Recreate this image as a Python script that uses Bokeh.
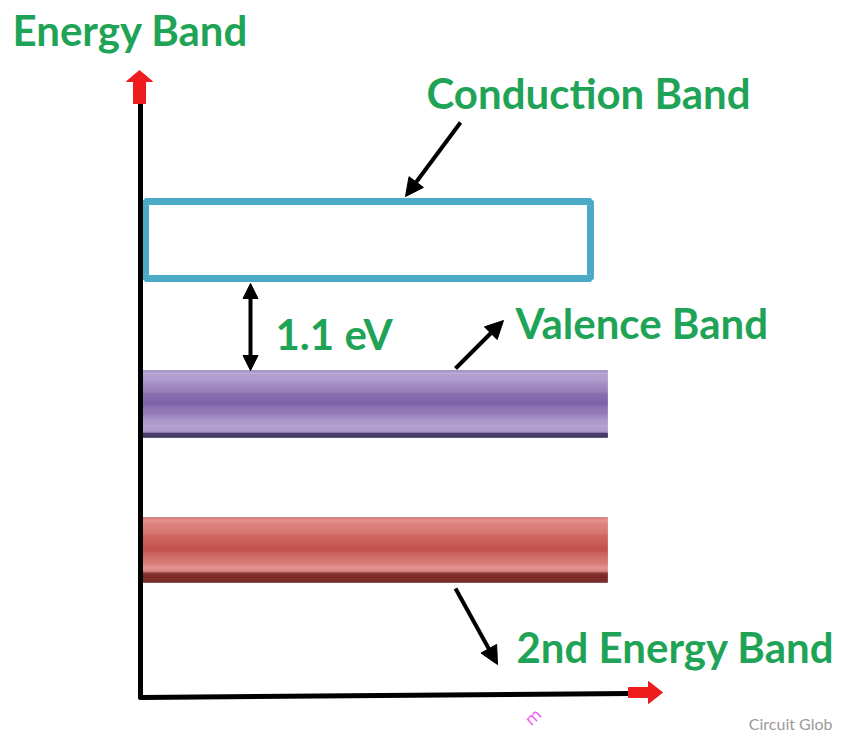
from bokeh.plotting import figure
from bokeh.models import Range1d, Arrow, NormalHead
from bokeh.core.properties import value
from bokeh.embed import file_html
from bokeh.resources import INLINE

# ---- diagram data (image coordinates: x to the right, y downward) ----
band_names = ["Conduction Band", "Valence Band", "2nd Energy Band"]
band_left = [145, 140, 140]
band_right = [590, 607, 607]
band_top = [201, 370, 517]
band_bottom = [278, 437, 582]

label_text = ["Energy Band", "Conduction Band", "1.1 eV", "Valence Band", "2nd Energy Band"]
label_x = [12, 426, 275, 515, 516]
label_y = [44, 107, 348, 337, 661]  # visual text baselines

pointer_x0 = [460, 455, 455]
pointer_y0 = [122, 368, 588]
pointer_x1 = [405, 503, 497]
pointer_y1 = [196, 320, 664]

gap_x = [250]
gap_y0 = [283]
gap_y1 = [370]

axis_x = [140, 140, 630]
axis_y = [103, 697, 693]

yhead_x = [133, 133, 126, 139, 152, 145, 145]
yhead_y = [103, 81, 81, 70, 81, 81, 103]
xhead_x = [628, 648, 648, 662, 648, 648, 628]
xhead_y = [687, 687, 681, 692, 703, 697, 697]

credit_text = ["Circuit Glob"]
watermark_text = ["m"]

# ---- styles ----
GREEN = "#1fa457"
FONT = "Lato"
LABEL_PX = 42
SHIFT = 0.34  # baseline correction (fraction of font size)

W, H = 834, 732
p = figure(width=W, height=H, output_backend="svg", toolbar_location=None,
           x_range=Range1d(0, W), y_range=Range1d(H, 0),
           min_border=0, outline_line_color=None, background_fill_color="white")
p.axis.visible = False
p.grid.visible = False


def hex2rgb(h):
    h = h.lstrip("#")
    return tuple(int(h[i:i + 2], 16) for i in (0, 2, 4))


def rgb2hex(c):
    return "#%02x%02x%02x" % tuple(int(round(v)) for v in c)


def stripe_colors(stops, n):
    out = []
    for i in range(n):
        f = (i + 0.5) / n
        for (f0, c0), (f1, c1) in zip(stops[:-1], stops[1:]):
            if f0 <= f <= f1:
                t = 0 if f1 == f0 else (f - f0) / (f1 - f0)
                a, b = hex2rgb(c0), hex2rgb(c1)
                out.append(rgb2hex([a[k] + (b[k] - a[k]) * t for k in range(3)]))
                break
    return out


purple_stops = [(0.0, "#8d76b0"), (0.04, "#b6a4d2"), (0.2, "#a58fc5"), (0.45, "#7b5ea6"),
                (0.6, "#8c72b4"), (0.82, "#b3a1d0"), (0.93, "#a894c8"), (0.94, "#4a3a6c"), (1.0, "#3a2c55")]
red_stops = [(0.0, "#c9625e"), (0.04, "#e3908b"), (0.2, "#d9746f"), (0.45, "#c24e4a"),
             (0.6, "#cc625e"), (0.78, "#e2908b"), (0.84, "#d57d78"), (0.85, "#8a302d"), (1.0, "#6e2421")]

# conduction band: outlined box
p.quad(left=[band_left[0]], right=[band_right[0]], top=[band_top[0]], bottom=[band_bottom[0]],
       fill_color="white", line_color="#4babc6", line_width=7)

# valence and 2nd band: shaded bars built from thin stripes
for idx, stops in ((1, purple_stops), (2, red_stops)):
    n = 60
    t, b = band_top[idx], band_bottom[idx]
    h = (b - t) / n
    cols = stripe_colors(stops, n)
    p.quad(left=[band_left[idx]] * n, right=[band_right[idx]] * n,
           top=[t + i * h for i in range(n)], bottom=[t + (i + 1) * h for i in range(n)],
           fill_color=cols, line_color=cols, line_width=0.6)

# axes
p.line(axis_x, axis_y, line_color="black", line_width=5, line_join="round", line_cap="round")
p.patch(yhead_x, yhead_y, fill_color="#ee1c1c", line_color="#ee1c1c")
p.patch(xhead_x, xhead_y, fill_color="#ee1c1c", line_color="#ee1c1c")

# pointer arrows
for x0, y0, x1, y1 in zip(pointer_x0, pointer_y0, pointer_x1, pointer_y1):
    p.add_layout(Arrow(x_start=x0, y_start=y0, x_end=x1, y_end=y1, line_width=4, line_color="black",
                       end=NormalHead(size=18, fill_color="black", line_color="black")))

# band-gap double arrow
p.add_layout(Arrow(x_start=gap_x[0], y_start=gap_y0[0], x_end=gap_x[0], y_end=gap_y1[0],
                   line_width=4, line_color="black",
                   start=NormalHead(size=15, fill_color="black", line_color="black"),
                   end=NormalHead(size=15, fill_color="black", line_color="black")))

# labels
p.text(x=label_x, y=[v - SHIFT * LABEL_PX for v in label_y], text=label_text, text_color=GREEN,
       text_font=value(FONT), text_font_style="bold", text_font_size=f"{LABEL_PX}px",
       text_baseline="alphabetic", text_align="left")

# credit + watermark fragment (kept inside the drawable area)
p.text(x=[832], y=[728 - SHIFT * 16], text=credit_text, text_color="#9a9a9a", text_font=value(FONT),
       text_font_size="16px", text_baseline="alphabetic", text_align="right")
p.text(x=[527], y=[722], text=watermark_text, text_color="#f05af0", text_font=value("DejaVu Sans"),
       text_font_size="16px", angle=0.75, text_baseline="alphabetic")

open("out.html", "w").write(file_html(p, INLINE))
